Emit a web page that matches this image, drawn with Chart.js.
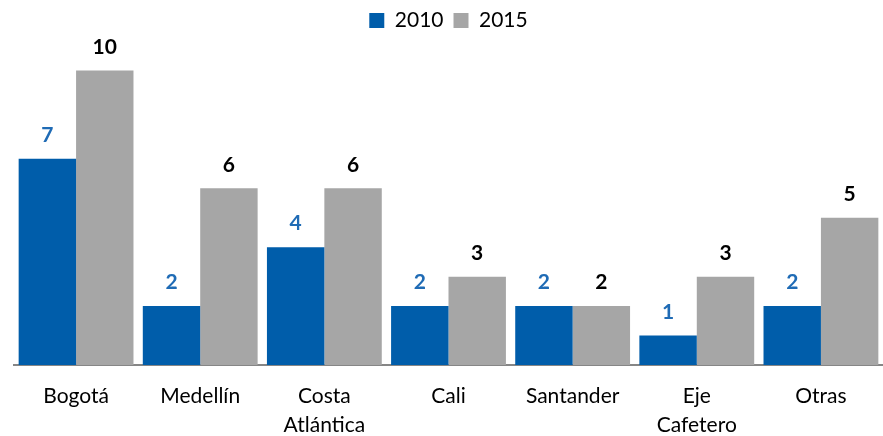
<!DOCTYPE html>
<html>
<head>
<meta charset="utf-8">
<script src="https://cdn.jsdelivr.net/npm/chart.js@4"></script>
<style>
    html, body { margin: 0; padding: 0; background: #ffffff; }
    #wrap { width: 883px; height: 436px; position: relative; }
</style>
</head>
<body>
<div id="wrap"><canvas id="barChart"></canvas></div>
<script>
// chart data
const categories = ['Bogotá', 'Medellín', ['Costa', 'Atlántica'], 'Cali', 'Santander', ['Eje', 'Cafetero'], 'Otras'];
const values2010 = [7, 2, 4, 2, 2, 1, 2];
const values2015 = [10, 6, 6, 3, 2, 3, 5];
const seriesNames = ['2010', '2015'];

const FONT = 'Lato, "Open Sans", sans-serif';

// draws the value over each bar
const valueLabels = {
    id: 'valueLabels',
    afterDatasetsDraw(chart) {
        const ctx = chart.ctx;
        ctx.save();
        ctx.font = 'bold 21px ' + FONT;
        ctx.textAlign = 'center';
        ctx.textBaseline = 'bottom';
        chart.data.datasets.forEach((ds, i) => {
            const meta = chart.getDatasetMeta(i);
            ctx.fillStyle = i === 0 ? '#1F6BB5' : '#000000';
            meta.data.forEach((bar, j) => {
                ctx.fillText(ds.data[j], bar.x, bar.y - 13);
            });
        });
        ctx.restore();
    }
};

const ctx = document.getElementById('barChart');
new Chart(ctx, {
    type: 'bar',
    data: {
        labels: categories,
        datasets: [{
            label: seriesNames[0],
            data: values2010,
            backgroundColor: '#005DAA',
            categoryPercentage: 0.925,
            barPercentage: 1
        }, {
            label: seriesNames[1],
            data: values2015,
            backgroundColor: '#A6A6A6',
            categoryPercentage: 0.925,
            barPercentage: 1
        }]
    },
    options: {
        responsive: true,
        maintainAspectRatio: false,
        animation: false,
        layout: { padding: { left: 14, right: 0, top: 0, bottom: 0 } },
        plugins: {
            legend: {
                position: 'top',
                labels: {
                    font: { family: FONT, size: 21 },
                    color: '#000000',
                    boxWidth: 15,
                    boxHeight: 15,
                    padding: 10
                }
            },
            tooltip: { enabled: false }
        },
        scales: {
            x: {
                grid: { display: false },
                border: { color: '#868686', width: 2 },
                ticks: {
                    color: '#000000',
                    font: { family: FONT, size: 21, lineHeight: 1.38 },
                    padding: 9,
                    maxRotation: 0,
                    autoSkip: false
                },
                // keep the label band the same height as the original
                afterFit(scale) {
                    scale.height = 71;
                }
            },
            y: {
                display: false,
                min: 0,
                max: 11
            }
        }
    },
    plugins: [valueLabels]
});
</script>
</body>
</html>
